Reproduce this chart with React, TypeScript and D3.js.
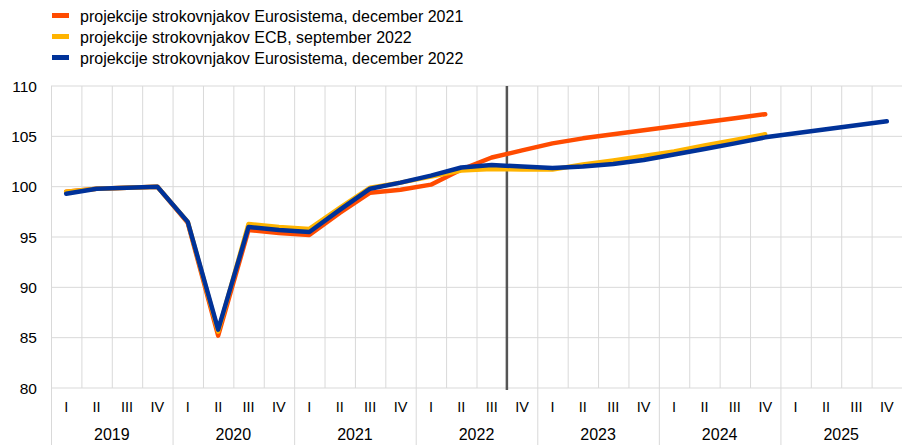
import React from "react";
import * as d3 from "d3";

const years = ["2019", "2020", "2021", "2022", "2023", "2024", "2025"];
const quarterNames = ["I", "II", "III", "IV"];
const quarters = years.flatMap((y) => quarterNames.map((q) => `${y}-${q}`));

const seriesNames = [
  "projekcije strokovnjakov Eurosistema, december 2021",
  "projekcije strokovnjakov ECB, september 2022",
  "projekcije strokovnjakov Eurosistema, december 2022",
];
const seriesColors = ["#FF4B00", "#FFB400", "#003299"];

const dec2021: (number | null)[] = [
  99.5, 99.8, 99.9, 100.0, 96.4, 85.2, 95.7, 95.4,
  95.2, 97.4, 99.4, 99.7, 100.2, 101.7, 102.9, 103.6,
  104.3, 104.8, 105.2, 105.6, 106.0, 106.4, 106.8, 107.2,
  null, null, null, null,
];
const sep2022: (number | null)[] = [
  99.5, 99.8, 99.9, 100.0, 96.5, 85.6, 96.3, 96.0,
  95.8, 97.9, 99.9, 100.4, 101.0, 101.6, 101.75, 101.7,
  101.7, 102.2, 102.6, 103.05, 103.5, 104.1, 104.65, 105.2,
  null, null, null, null,
];
const dec2022: (number | null)[] = [
  99.3, 99.8, 99.9, 100.0, 96.5, 85.8, 96.0, 95.7,
  95.5, 97.7, 99.8, 100.4, 101.1, 101.9, 102.15, 102.0,
  101.85, 102.0, 102.25, 102.65, 103.2, 103.75, 104.3, 104.9,
  105.3, 105.7, 106.1, 106.5,
];
const seriesData = [dec2021, sep2022, dec2022];

const yTicks = [80, 85, 90, 95, 100, 105, 110];
const markerQuarter = "2022-IV";

const W = 902;
const H = 445;
const left = 51;
const right = 902;
const top = 86;
const bottom = 388;

export default function App() {
  const x = d3.scaleBand<string>().domain(quarters).range([left, right]).padding(0);
  const y = d3.scaleLinear().domain([80, 110]).range([bottom, top]);
  const bw = x.bandwidth();
  const yearW = bw * 4;

  const line = d3
    .line<number | null>()
    .defined((d) => d !== null)
    .x((_, i) => (x(quarters[i]) as number) + bw / 2)
    .y((d) => y(d as number));

  const font = "Arial, 'Liberation Sans', sans-serif";
  const markerX = x(markerQuarter) as number;

  return (
    <svg width={W} height={H} style={{ position: "absolute", left: 0, top: 0 }}>
      <rect x={0} y={0} width={W} height={H} fill="#fff" />
      {yTicks.map((t) => (
        <line key={t} x1={left} x2={right} y1={y(t)} y2={y(t)} stroke="#d9d9d9" strokeWidth={1} />
      ))}
      {quarters.map((q, i) => (
        <line
          key={q}
          x1={(x(q) as number) + 0.5}
          x2={(x(q) as number) + 0.5}
          y1={top}
          y2={i % 4 === 0 ? H : bottom}
          stroke="#d9d9d9"
          strokeWidth={1}
        />
      ))}
      {yTicks.map((t) => (
        <text key={t} x={37} y={y(t) + 5.5} textAnchor="end" fontFamily={font} fontSize={15.5} fill="#000">
          {t}
        </text>
      ))}
      {quarters.map((q, i) => (
        <text
          key={q}
          x={(x(q) as number) + bw / 2}
          y={412}
          textAnchor="middle"
          fontFamily={font}
          fontSize={14.5}
          fill="#000"
        >
          {quarterNames[i % 4]}
        </text>
      ))}
      {years.map((yr, i) => (
        <text
          key={yr}
          x={left + yearW * i + yearW / 2}
          y={440}
          textAnchor="middle"
          fontFamily={font}
          fontSize={16}
          fill="#000"
        >
          {yr}
        </text>
      ))}
      <line x1={markerX} x2={markerX} y1={top} y2={390} stroke="#555" strokeWidth={2.5} />
      {seriesData.map((s, i) => (
        <path
          key={i}
          d={line(s) || ""}
          fill="none"
          stroke={seriesColors[i]}
          strokeWidth={4.5}
          strokeLinejoin="round"
          strokeLinecap="round"
        />
      ))}
      {seriesNames.map((n, i) => (
        <g key={n}>
          <rect x={52} y={13 + i * 21} width={17} height={5} fill={seriesColors[i]} />
          <text x={80} y={21.5 + i * 21} fontFamily={font} fontSize={16} fill="#000">
            {n}
          </text>
        </g>
      ))}
    </svg>
  );
}
